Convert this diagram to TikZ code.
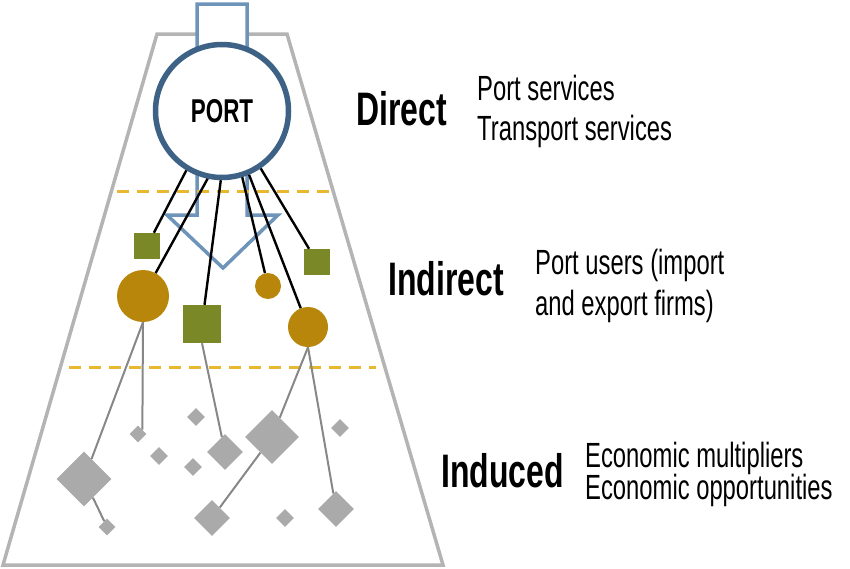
\documentclass[tikz,border=0pt]{standalone}
\usepackage{fontspec}
\usetikzlibrary{shapes.geometric}
\newfontfamily\agfont{Liberation Sans}[FakeStretch=0.68]
\definecolor{trapgray}{RGB}{180,180,180}
\definecolor{arrowblue}{RGB}{110,148,185}
\definecolor{portblue}{RGB}{62,98,133}
\definecolor{dashgold}{RGB}{232,185,48}
\definecolor{olivegreen}{RGB}{122,136,40}
\definecolor{goldcirc}{RGB}{184,134,11}
\definecolor{diagray}{RGB}{170,170,170}
\definecolor{linegray}{RGB}{135,135,135}
\tikzset{
  greensq/.style={rectangle,fill=olivegreen,inner sep=0pt,minimum size=#1},
  goldc/.style={circle,fill=goldcirc,inner sep=0pt,minimum size=#1},
  dia/.style={diamond,fill=diagray,inner sep=0pt,minimum width=#1,minimum height=#1},
  blk/.style={black,line width=2.4pt},
  gln/.style={linegray,line width=2pt},
  dashln/.style={dashgold,line width=3pt,dash pattern=on 12pt off 8pt},
  heading/.style={inner sep=0pt,anchor=base west,font=\agfont\bfseries\fontsize{47}{50}\selectfont},
  desc/.style={inner sep=0pt,anchor=base west,font=\agfont\fontsize{35}{40}\selectfont},
}
\begin{document}
\begin{tikzpicture}[x=1pt,y=-1pt]
\useasboundingbox (0,0) rectangle (850,568);
% trapezoid
\draw[trapgray,line width=3.5pt,line join=miter] (157,34) -- (287,34) -- (443,565) -- (3,565) -- cycle;
% arrow
\draw[arrowblue,line width=3.5pt,fill=white,line join=miter] (197,4) -- (247,4) -- (247,215) -- (278,215) -- (223,268) -- (167,215) -- (197,215) -- cycle;
% dashed level separators
\coordinate (d1a) at (117,191); \coordinate (d1b) at (331,191);
\coordinate (d2a) at (69,367); \coordinate (d2b) at (376,367);
\draw[dashln] (d1a) -- (d1b);
\draw[dashln] (d2a) -- (d2b);
% port
\node[circle,draw=portblue,line width=5.5pt,fill=white,minimum size=133pt,inner sep=0pt,
      font=\agfont\bfseries\fontsize{33}{36}\selectfont] (port) at (222,111) {PORT};
% indirect shapes
\node[greensq=26pt] (sqA) at (147,246) {};
\node[greensq=26pt] (sqB) at (317,262) {};
\node[greensq=38pt] (sqC) at (202,324) {};
\node[goldc=52pt] (cA) at (143,296) {};
\node[goldc=26pt] (cB) at (268,286) {};
\node[goldc=40pt] (cC) at (308,327) {};
% black connectors
\draw[blk] (port.-121) -- (sqA);
\draw[blk] (port.-102) -- (cA);
\draw[blk] (port.-91) -- (sqC);
\draw[blk] (port.-73) -- (cB);
\draw[blk] (port.-67) -- (cC);
\draw[blk] (port.-56) -- (sqB);
% induced diamonds
\node[dia=55pt] (dA) at (84,479) {};
\node[dia=17pt] (dB) at (107,527) {};
\node[dia=17pt] (dC) at (138,434) {};
\node[dia=18pt] (dD) at (159,456) {};
\node[dia=18pt] (dE) at (196,417) {};
\node[dia=18pt] (dF) at (193,467) {};
\node[dia=36pt] (dG) at (225,452) {};
\node[dia=54pt] (dH) at (272,437) {};
\node[dia=18pt] (dI) at (340,428) {};
\node[dia=36pt] (dJ) at (212,518) {};
\node[dia=18pt] (dK) at (285,518) {};
\node[dia=36pt] (dL) at (336,509) {};
% gray connectors
\draw[gln] (cA.south) -- (dC.north east);
\draw[gln] (cA.south) -- (dA);
\draw[gln] (dA) -- (dB);
\draw[gln] (sqC.south) -- (dG);
\draw[gln] (cC.south) -- (dH);
\draw[gln] (cC.south) -- (dL);
\draw[gln] (dH) -- (dJ);
% labels
\node[heading] (tDirect) at (356,125) {Direct};
\node[desc] (tPS) at (477,100) {Port services};
\node[desc] (tTS) at (477,140) {Transport services};
\node[heading] (tIndirect) at (388,295) {Indirect};
\node[desc] (tPU) at (535,274) {Port users (import};
\node[desc] (tEF) at (535,315) {and export firms)};
\node[heading] (tInduced) at (441,487) {Induced};
\node[desc] (tEM) at (585,467) {Economic multipliers};
\node[desc] (tEO) at (585,499) {Economic opportunities};
\end{tikzpicture}
\end{document}
